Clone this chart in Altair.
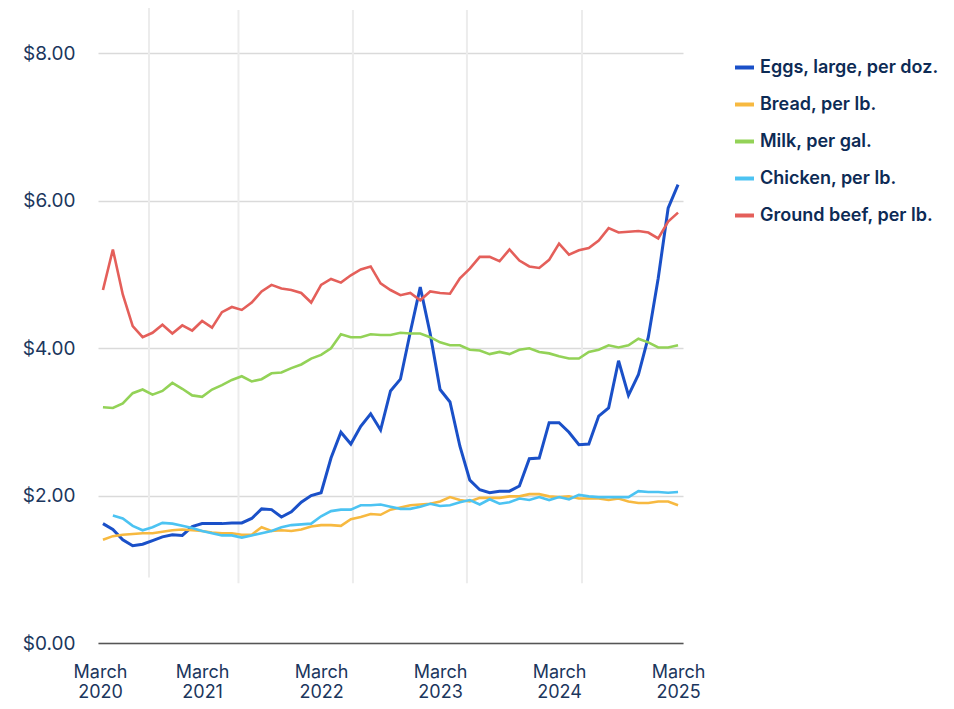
import altair as alt
import pandas as pd

# Monthly average prices, May 2020 .. March 2025 (59 months)
series_names = ["Eggs, large, per doz.", "Bread, per lb.", "Milk, per gal.",
                "Chicken, per lb.", "Ground beef, per lb."]
series_colors = ["#1a50c8", "#f7b940", "#93d257", "#4cc3f2", "#e45f5a"]

eggs = [1.62, 1.54, 1.40, 1.32, 1.34, 1.39, 1.44, 1.47, 1.46, 1.58,
        1.62, 1.62, 1.62, 1.63, 1.63, 1.69, 1.82, 1.81, 1.71, 1.78,
        1.91, 2.00, 2.04, 2.51, 2.86, 2.70, 2.94, 3.11, 2.89, 3.42,
        3.58, 4.22, 4.83, 4.20, 3.44, 3.27, 2.67, 2.21, 2.08, 2.04,
        2.06, 2.06, 2.13, 2.50, 2.51, 2.99, 2.99, 2.86, 2.69, 2.70,
        3.08, 3.19, 3.83, 3.36, 3.64, 4.15, 4.95, 5.90, 6.22]
bread = [1.40, 1.45, 1.47, 1.48, 1.49, 1.49, 1.51, 1.53, 1.54, 1.53,
         1.52, 1.50, 1.49, 1.49, 1.47, 1.47, 1.57, 1.52, 1.53, 1.52,
         1.54, 1.58, 1.60, 1.60, 1.59, 1.68, 1.71, 1.75, 1.74, 1.81,
         1.84, 1.87, 1.88, 1.89, 1.92, 1.98, 1.94, 1.92, 1.97, 1.97,
         1.97, 1.99, 1.99, 2.02, 2.02, 1.99, 1.98, 1.99, 1.96, 1.96,
         1.96, 1.94, 1.96, 1.92, 1.90, 1.90, 1.92, 1.92, 1.87]
milk = [3.20, 3.19, 3.25, 3.39, 3.44, 3.37, 3.42, 3.53, 3.45, 3.36,
        3.34, 3.44, 3.50, 3.57, 3.62, 3.55, 3.58, 3.66, 3.67, 3.73,
        3.78, 3.86, 3.91, 4.00, 4.19, 4.15, 4.15, 4.19, 4.18, 4.18,
        4.21, 4.20, 4.20, 4.15, 4.08, 4.04, 4.04, 3.98, 3.97, 3.92,
        3.95, 3.92, 3.98, 4.00, 3.95, 3.93, 3.89, 3.86, 3.86, 3.95,
        3.98, 4.04, 4.01, 4.04, 4.13, 4.08, 4.01, 4.01, 4.04]
chicken = [None, 1.73, 1.69, 1.59, 1.53, 1.57, 1.63, 1.62, 1.59, 1.56,
           1.52, 1.49, 1.46, 1.46, 1.43, 1.46, 1.49, 1.52, 1.57, 1.60,
           1.61, 1.62, 1.72, 1.79, 1.81, 1.81, 1.87, 1.87, 1.88, 1.85,
           1.82, 1.82, 1.85, 1.89, 1.86, 1.87, 1.91, 1.94, 1.88, 1.95,
           1.89, 1.91, 1.96, 1.94, 1.98, 1.94, 1.98, 1.95, 2.01, 1.99,
           1.98, 1.98, 1.98, 1.98, 2.06, 2.05, 2.05, 2.04, 2.05]
beef = [4.79, 5.34, 4.73, 4.30, 4.15, 4.21, 4.32, 4.20, 4.31, 4.24,
        4.37, 4.28, 4.49, 4.56, 4.52, 4.62, 4.77, 4.86, 4.81, 4.79,
        4.75, 4.62, 4.86, 4.94, 4.89, 4.99, 5.07, 5.11, 4.88, 4.79,
        4.72, 4.75, 4.65, 4.77, 4.75, 4.74, 4.95, 5.08, 5.24, 5.24,
        5.18, 5.34, 5.19, 5.11, 5.09, 5.20, 5.42, 5.27, 5.33, 5.36,
        5.46, 5.63, 5.57, 5.58, 5.59, 5.57, 5.49, 5.72, 5.84]

# x-axis label ticks (month index, 0 = May 2020) and the decorative vertical grid
x_label_ticks = [-0.3, 10, 22, 34, 46, 58]
y_ticks = [0, 2, 4, 6, 8]
grid_months = [4.64, 13.67, 25.21, 36.71, 48.31]
grid_tops = [8.70, 8.59, 8.59, 8.59, 8.59]
grid_bottoms = [0.89, 0.81, 0.81, 0.81, 0.81]

rows = []
for name, vals in zip(series_names, [eggs, bread, milk, chicken, beef]):
    for i, v in enumerate(vals):
        if v is not None:
            rows.append({"month": i, "price": v, "item": name})
df = pd.DataFrame(rows)
grid_df = pd.DataFrame({"month": grid_months, "top": grid_tops, "bottom": grid_bottoms})

NAVY = "#1b365d"
x_scale = alt.Scale(domain=[-0.5, 58.5], nice=False, zero=False)
y_scale = alt.Scale(domain=[0, 8.59], nice=False)

x_axis = alt.Axis(values=x_label_ticks, title=None, grid=False, ticks=False,
                  labelExpr="['March', '' + (2020 + round((datum.value + 2) / 12))]",
                  labelFont="Inter", labelFontSize=18, labelColor=NAVY,
                  labelLineHeight=20, labelPadding=20, labelAngle=0,
                  labelOverlap=False, labelFlush=False, labelBound=False,
                  domainColor="#555555", domainWidth=1.5)
y_axis = alt.Axis(values=y_ticks, title=None, format="$.2f", ticks=False,
                  domain=False, grid=True, gridColor="#dadada", gridWidth=1.5,
                  labelFont="Inter", labelFontSize=19, labelColor=NAVY,
                  labelPadding=23)

rules = alt.Chart(grid_df).mark_rule(color="#ececec", strokeWidth=2).encode(
    x=alt.X("month:Q", scale=x_scale, axis=x_axis),
    y=alt.Y("top:Q", scale=y_scale, axis=y_axis),
    y2="bottom:Q",
)

lines = alt.Chart(df).mark_line(strokeJoin="miter").encode(
    x=alt.X("month:Q", scale=x_scale, axis=x_axis),
    y=alt.Y("price:Q", scale=y_scale, axis=y_axis),
    color=alt.Color("item:N", sort=series_names,
                    scale=alt.Scale(domain=series_names, range=series_colors),
                    legend=alt.Legend(title=None, orient="none", legendX=635, legendY=46,
                                      symbolType="stroke", symbolStrokeWidth=4,
                                      symbolSize=361, labelFont="Inter",
                                      labelFontSize=18, labelFontWeight=600,
                                      labelColor="#0d2b55", rowPadding=16,
                                      padding=0, labelOffset=4, labelLimit=300)),
    strokeWidth=alt.condition(alt.datum.item == series_names[0], alt.value(3), alt.value(2.6)),
)

chart = alt.layer(rules, lines).properties(
    width=585, height=633,
    autosize=alt.AutoSizeParams(type="none"),
    padding={"left": 90, "top": 2, "right": 262, "bottom": 57},
    background="white",
).configure_view(stroke=None)

chart.save("out.html", embed_options={"renderer": "svg", "actions": False})
